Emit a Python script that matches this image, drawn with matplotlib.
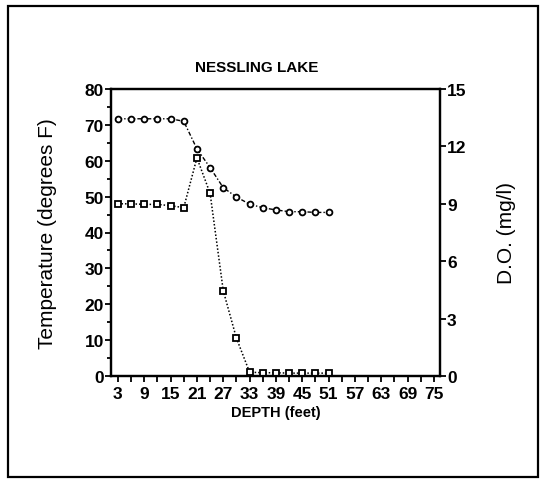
import numpy as np
import matplotlib
matplotlib.use("Agg")
import matplotlib.pyplot as plt
from matplotlib.ticker import MultipleLocator, FixedLocator

# depth profile, Nessling Lake
depth = [3, 6, 9, 12, 15, 18, 21, 24, 27, 30, 33, 36, 39, 42, 45, 48, 51]
temp_f = [71.7, 71.7, 71.7, 71.7, 71.7, 71.0, 63.3, 58.1, 52.5, 49.9,
          47.9, 46.9, 46.3, 45.8, 45.8, 45.6, 45.6]
do_mgl = [9.0, 9.0, 8.97, 8.97, 8.9, 8.8, 11.4, 9.55, 4.46, 1.98,
          0.2, 0.17, 0.17, 0.15, 0.15, 0.15, 0.15]

xticks_all = list(range(3, 76, 3))
xtick_labels = [str(d) if (d - 3) % 6 == 0 else "" for d in xticks_all]

plt.rcParams['font.family'] = ['Liberation Sans', 'DejaVu Sans']

W, H = 540, 481
fig = plt.figure(figsize=(W / 100, H / 100), dpi=100)
ax = fig.add_axes([110.7 / W, 1 - 377 / H, (440 - 110.7) / W, (377 - 90) / H])
ax2 = ax.twinx()

ax.plot(depth, temp_f, color='black', linestyle=(0, (3, 1.5, 1, 1.5)), linewidth=1,
        marker='o', markersize=4.2, markerfacecolor='white', markeredgecolor='black',
        markeredgewidth=1.3)
ax2.plot(depth, do_mgl, color='black', linestyle=(0, (1, 1.3)), linewidth=1.1,
         marker='s', markersize=4.2, markerfacecolor='white', markeredgecolor='black',
         markeredgewidth=1.3)

ax.set_xlim(1.35, 76.4)
ax.set_ylim(0, 80)
ax2.set_ylim(0, 15)

ax.xaxis.set_major_locator(FixedLocator(xticks_all))
ax.set_xticklabels(xtick_labels)
ax.yaxis.set_major_locator(MultipleLocator(10))
ax.yaxis.set_minor_locator(MultipleLocator(5))
ax2.yaxis.set_major_locator(MultipleLocator(3))

for a in (ax, ax2):
    for s in a.spines.values():
        s.set_linewidth(1.6)
ax.tick_params(axis='both', which='both', direction='out', width=1.3, labelsize=12.5)
ax.tick_params(axis='x', length=4, pad=3)
ax.tick_params(axis='y', which='major', length=4, pad=1)
ax.tick_params(axis='y', which='minor', length=3)
ax2.tick_params(axis='y', direction='out', length=4, width=1.3, pad=1, labelsize=12.5)
for lab in ax.get_xticklabels() + ax.get_yticklabels() + ax2.get_yticklabels():
    lab.set_fontweight('bold')

ax.set_xlabel('DEPTH (feet)', fontsize=10.5, fontweight='bold', labelpad=3)
ax.set_ylabel('Temperature (degrees F)', fontsize=15)
ax.yaxis.set_label_coords(-0.163, 0.5)
ax2.set_ylabel('D.O. (mg/l)', fontsize=15, rotation=90)
ax2.yaxis.set_label_coords(1.173, 0.5)

fig.text(257 / W, 1 - 68 / H, 'NESSLING LAKE', ha='center', va='center',
         fontsize=11, fontweight='bold')

# page frame
frame = plt.Rectangle((8 / W, 1 - 478 / H), (538 - 8) / W, (478 - 7) / H,
                      transform=fig.transFigure, fill=False, edgecolor='black',
                      linewidth=1.6)
fig.patches.append(frame)

fig.savefig('out.png', dpi=100)
